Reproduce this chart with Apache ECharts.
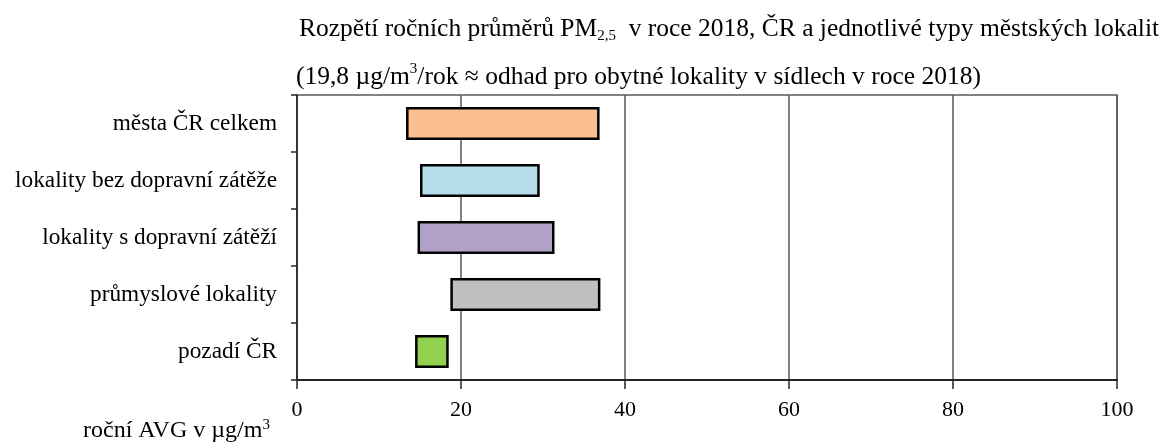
<!DOCTYPE html>
<html>
<head>
<meta charset="utf-8">
<script src="https://cdn.jsdelivr.net/npm/echarts@6/dist/echarts.min.js"></script>
<style>
  html, body { margin: 0; padding: 0; background: #fff; }
  #main { width: 1169px; height: 444px; }
</style>
</head>
<body>
<div id="main"></div>
<script>
  // kategorie shora dolů
  var categories = ['města ČR celkem', 'lokality bez dopravní zátěže', 'lokality s dopravní zátěží', 'průmyslové lokality', 'pozadí ČR'];
  var minValues = [13.3, 15.0, 14.7, 18.7, 14.4];
  var maxValues = [36.9, 29.6, 31.4, 37.0, 18.5];
  var barColors = ['#FAC090', '#B7DEE8', '#B3A2C7', '#BFBFBF', '#92D050'];
  var xTicks = [0, 20, 40, 60, 80, 100];

  var font = 'Liberation Serif';

  var rangeData = categories.map(function (c, i) {
    return {
      value: +(maxValues[i] - minValues[i]).toFixed(2),
      itemStyle: { color: barColors[i] }
    };
  });

  var myChart = echarts.init(document.getElementById('main'));
  myChart.setOption({
    animation: false,
    title: [{
      left: 294, top: 9,
      text: '{a|Rozpětí ročních průměrů PM}{s|2,5}{a|  v roce 2018, ČR a jednotlivé typy městských lokalit}',
      textStyle: {
        fontWeight: 'normal',
        rich: {
          a: { fontFamily: font, fontSize: 25.5, fontWeight: 'normal', color: '#000', lineHeight: 30 },
          s: { fontFamily: font, fontSize: 15, fontWeight: 'normal', color: '#000', lineHeight: 16, verticalAlign: 'bottom' }
        }
      }
    }, {
      left: 291, top: 57,
      text: '(19,8 µg/m{u|3}/rok ≈ odhad pro obytné lokality v sídlech v roce 2018)',
      textStyle: {
        fontFamily: font, fontSize: 25.5, fontWeight: 'normal', color: '#000', lineHeight: 30,
        rich: {
          u: { fontFamily: font, fontSize: 15, fontWeight: 'normal', color: '#000', lineHeight: 16, verticalAlign: 'top' }
        }
      }
    }],
    graphic: [{
      type: 'text',
      left: 83, top: 418,
      style: {
        text: 'roční AVG v µg/m{u|3}',
        font: '24px "Liberation Serif"',
        fill: '#000',
        lineHeight: 26,
        rich: {
          u: { fontFamily: font, fontSize: 15, fill: '#000', lineHeight: 14, verticalAlign: 'top' }
        }
      }
    }],
    grid: {
      left: 297, right: 52, top: 95, bottom: 64,
      show: true, borderColor: '#595959', borderWidth: 1.5,
      containLabel: false
    },
    xAxis: {
      type: 'value',
      min: 0, max: 100, interval: 20,
      axisLine: { show: true, lineStyle: { color: '#262626', width: 2 } },
      axisTick: { show: true, length: 9, lineStyle: { color: '#262626', width: 1.5 } },
      axisLabel: {
        fontFamily: font, fontSize: 22, color: '#000', margin: 19,
        formatter: function (v) { return xTicks.indexOf(v) >= 0 ? String(v) : ''; }
      },
      splitLine: { show: true, lineStyle: { color: '#595959', width: 1.5 } }
    },
    yAxis: {
      type: 'category',
      data: categories,
      inverse: true,
      axisLine: { show: true, lineStyle: { color: '#262626', width: 1.5 } },
      axisTick: { show: true, length: 6, lineStyle: { color: '#262626', width: 1.5 } },
      axisLabel: { fontFamily: font, fontSize: 23.3, color: '#000', margin: 20 },
      splitLine: { show: false }
    },
    series: [{
      type: 'bar',
      stack: 'range',
      silent: true,
      data: minValues,
      barWidth: 33,
      itemStyle: { color: 'transparent' }
    }, {
      type: 'bar',
      stack: 'range',
      data: rangeData,
      barWidth: 33,
      itemStyle: { borderColor: '#000', borderWidth: 2.5 }
    }]
  });
</script>
</body>
</html>
